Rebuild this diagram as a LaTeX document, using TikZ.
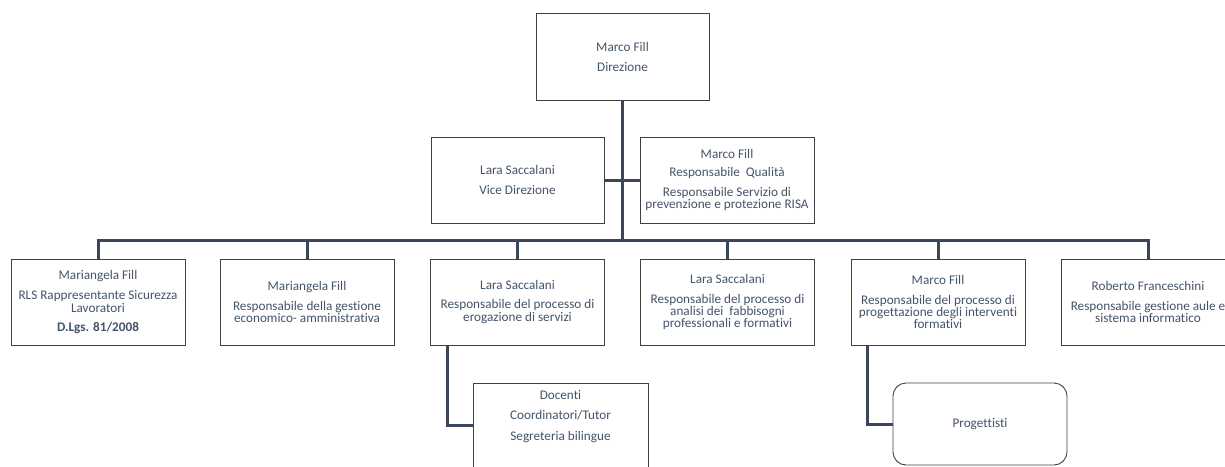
\documentclass[tikz,border=0pt]{standalone}
\usepackage{fontspec}
\setmainfont{Carlito}[Ligatures=NoCommon]
\definecolor{txt}{HTML}{44546A}
\definecolor{bord}{HTML}{404040}
\definecolor{conn}{HTML}{3A475A}
\begin{document}
\begin{tikzpicture}[x=1pt,y=-1pt,
  box/.style={draw=bord,line width=0.9pt,fill=white,inner sep=0pt,
    minimum width=174pt,minimum height=86pt,align=center,text=txt,
    font=\fontsize{13.2}{12.4}\selectfont},
  rbox/.style={box,rounded corners=13pt,minimum height=82pt},
  link/.style={draw=conn,line width=3pt}]
\useasboundingbox (0,0) rectangle (1225,466);
\clip (0,0) rectangle (1225,466);
% connectors first
\coordinate (bus) at (622,240);
\coordinate (topS) at (622,100);
\draw[link] (topS) -- (bus);
\draw[link] (604,180) coordinate (vE) -- (640,180) coordinate (qW);
\foreach \x/\n in {98/1,307/2,517.5/3,727.5/4,938/5,1148/6}{
  \coordinate (d\n) at (\x,259);
  \draw[link] (d\n) |- (bus);
}
\coordinate (s3) at (447,345);
\coordinate (w7) at (473,425.5);
\draw[link] (s3) |- (w7);
\coordinate (s5) at (867,345);
\coordinate (wp) at (893,424);
\draw[link] (s5) |- (wp);
% boxes
\node[box,minimum width=173pt,minimum height=87pt] (top) at (622.5,56.5)
  {Marco Fill\\[7.6pt]Direzione};
\node[box,minimum width=173pt] (vice) at (517.5,180)
  {Lara Saccalani\\[7.6pt]Vice Direzione};
\node[box] (qual) at (727,180)
  {Marco Fill\\[6pt]Responsabile\ \ Qualità\\[7pt]Responsabile Servizio di\\prevenzione e protezione RISA};
\node[box] (b1) at (98,302)
  {Mariangela Fill\\[8pt]RLS Rappresentante Sicurezza\\Lavoratori\\[7pt]\textbf{D.Lgs. 81/2008}};
\node[box] (b2) at (307,302)
  {Mariangela Fill\\[7pt]Responsabile della gestione\\economico- amministrativa};
\node[box] (b3) at (517.5,302)
  {Lara Saccalani\\[7pt]Responsabile del processo di\\erogazione di servizi};
\node[box] (b4) at (727.5,302)
  {Lara Saccalani\\[7.6pt]Responsabile del processo di\\analisi dei\ \ fabbisogni\\professionali e formativi};
\node[box] (b5) at (938,302)
  {Marco Fill\\[7.6pt]Responsabile del processo di\\progettazione degli interventi\\formativi};
\node[box] (b6) at (1148,302)
  {Roberto Franceschini\\[7pt]Responsabile gestione aule e\\sistema informatico};
\node[box,minimum width=175pt,minimum height=85pt] (b7) at (560.5,425.5)
  {Docenti\\[8pt]Coordinatori/Tutor\\[8pt]Segreteria bilingue\\[8pt]\mbox{}};
\node[rbox] (prog) at (980,424) {Progettisti};
\end{tikzpicture}
\end{document}
